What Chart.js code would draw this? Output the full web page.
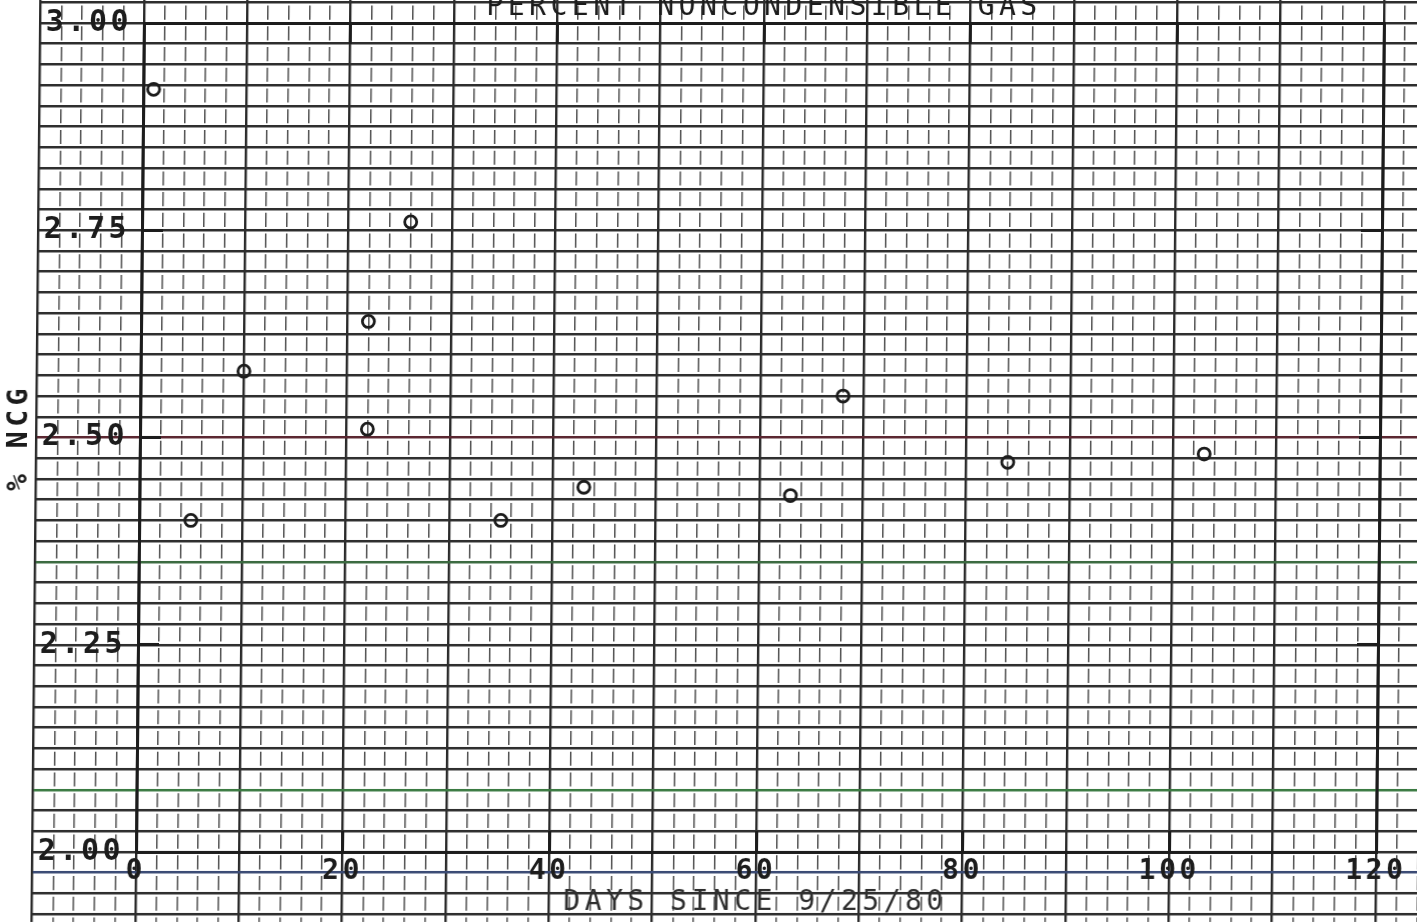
<!DOCTYPE html>
<html>
<head>
<meta charset="utf-8">
<title>Percent Noncondensible Gas</title>
<script src="https://cdn.jsdelivr.net/npm/chart.js@4.4.1/dist/chart.umd.min.js"></script>
<style>
  html, body { margin: 0; padding: 0; background: #fff; overflow: hidden; width: 1417px; height: 922px; }
  /* the plotter sheet leans slightly, so the whole sheet is sheared a touch */
  #sheet { position: absolute; left: 0; top: 0; width: 1432px; height: 922px;
           transform: skewX(-0.55deg); transform-origin: 0 437px; }
  #sheet canvas { position: absolute; left: 0; top: 0; }
</style>
</head>
<body>
<div id="sheet">
  <canvas id="paper" width="1432" height="922"></canvas>
  <canvas id="plot" width="1432" height="922"></canvas>
</div>
<script>
// ---- data -------------------------------------------------------------
const days       = [1, 5, 10, 22, 22, 26, 35, 43, 63, 68, 84, 103];
const ncgPercent = [2.92, 2.40, 2.58, 2.64, 2.51, 2.76, 2.40, 2.44, 2.43, 2.55, 2.47, 2.48];

const xTickValues = [0, 20, 40, 60, 80, 100, 120];
const xTickLabels = ['0', '20', '40', '60', '80', '100', '120'];
const yTickValues = [2.00, 2.25, 2.50, 2.75, 3.00];
const yTickLabels = ['2.00', '2.25', '2.50', '2.75', '3.00'];

const chartTitle = 'PERCENT NONCONDENSIBLE GAS';
const xTitle = 'DAYS SINCE 9/25/80';
const yTitle = '% NCG';

// ---- geometry ---------------------------------------------------------
const W = 1432, H = 922;
const FRAME = { left: 140, right: 1380, top: 23, bottom: 852 };
const X_RANGE = [0, 120], Y_RANGE = [2, 3];
const pxPerDay  = (FRAME.right - FRAME.left) / (X_RANGE[1] - X_RANGE[0]);
const pxPerUnit = (FRAME.bottom - FRAME.top) / (Y_RANGE[1] - Y_RANGE[0]);

// graph paper: one major division to the left of the y axis, to the edges elsewhere
const PAPER_X_MIN = -10;
const paperLeft = FRAME.left + (PAPER_X_MIN - X_RANGE[0]) * pxPerDay;
const paperXMax = X_RANGE[0] + (W - FRAME.left) / pxPerDay;
const paperYMax = Y_RANGE[1] + FRAME.top / pxPerUnit;
const paperYMin = Y_RANGE[0] - (H - FRAME.bottom) / pxPerUnit;

const CELL_X = 2, MAJOR_X = 10, CELL_Y = 0.025;
const rowPx = CELL_Y * pxPerUnit;
const dashLen = rowPx * 0.68;
const firstRow = FRAME.top - rowPx * Math.floor(FRAME.top / rowPx);
const dashStart = firstRow + (rowPx - dashLen) / 2;
const dashOffset = ((rowPx - dashStart) % rowPx + rowPx) % rowPx;

const INK = '#1c1c1c';
const RULE = '#2e2e2e';
const FONT = "'DejaVu Sans Mono', 'Liberation Mono', monospace";

// colour fringes on a few printed rules
const rowTint = { 2500: '#5a2630', 2350: '#3b6a40', 2075: '#3b7a42', 1975: '#3a4a74' };

function gridTicks(scale, step) {
  const out = [];
  const k0 = Math.ceil(scale.min / step - 1e-9), k1 = Math.floor(scale.max / step + 1e-9);
  for (let k = k0; k <= k1; k++) out.push({ value: +(k * step).toFixed(4) });
  scale.ticks = out;
}
const isMajor = v => Math.abs(Math.round(v) % MAJOR_X) === 0 && Math.abs(v - Math.round(v)) < 1e-6;

// ---- graph paper ------------------------------------------------------
new Chart(document.getElementById('paper'), {
  type: 'scatter',
  data: { datasets: [] },
  options: {
    responsive: false, animation: false, devicePixelRatio: 1,
    layout: { padding: { left: paperLeft, right: 0, top: 0, bottom: 0 } },
    plugins: { legend: { display: false }, tooltip: { enabled: false }, title: { display: false } },
    scales: {
      x: {
        type: 'linear', position: 'bottom', min: PAPER_X_MIN, max: paperXMax,
        afterBuildTicks: s => gridTicks(s, CELL_X),
        afterFit: s => { s.height = 0; s.paddingLeft = s.paddingRight = 0; },
        ticks: { display: false },
        border: {
          display: false,
          dash: c => isMajor(c.tick.value) ? [] : [dashLen, rowPx - dashLen],
          dashOffset: c => isMajor(c.tick.value) ? 0 : dashOffset
        },
        grid: {
          drawTicks: false,
          color: c => isMajor(c.tick.value) ? '#2a2a2a' : '#505050',
          lineWidth: c => isMajor(c.tick.value) ? 2.4 : 1.5
        }
      },
      y: {
        type: 'linear', position: 'left', min: paperYMin, max: paperYMax,
        afterBuildTicks: s => gridTicks(s, CELL_Y),
        afterFit: s => { s.width = 0; s.paddingTop = s.paddingBottom = 0; },
        ticks: { display: false },
        border: { display: false },
        grid: {
          drawTicks: false,
          color: c => rowTint[Math.round(c.tick.value * 1000)] || RULE,
          lineWidth: 2.5
        }
      }
    }
  }
});

// ---- plotted chart ----------------------------------------------------
const frameBorder = { display: true, color: INK, width: 3 };
const inwardTicks = { display: true, drawOnChartArea: false, drawTicks: true,
                      tickLength: -21, tickWidth: 3, tickColor: INK };
const valueTicks = arr => s => { s.ticks = arr.map(v => ({ value: v })); };
const noOverflowX = h => s => { s.height = h; s.paddingLeft = s.paddingRight = 0; };
const noOverflowY = w => s => { s.width = w; s.paddingTop = s.paddingBottom = 0; };

// plotter lettering is widely spaced
const plotterLettering = {
  id: 'plotterLettering',
  beforeDraw(chart) { chart.ctx.letterSpacing = '4.5px'; },
  afterDatasetsDraw(chart) { chart.ctx.letterSpacing = '3.5px'; },
  afterDraw(chart) { chart.ctx.letterSpacing = '0px'; }
};

new Chart(document.getElementById('plot'), {
  type: 'scatter',
  data: {
    datasets: [{
      label: yTitle,
      data: days.map((d, i) => ({ x: d, y: ncgPercent[i] })),
      pointStyle: 'circle',
      pointRadius: 6,
      pointBorderWidth: 2.8,
      pointBorderColor: INK,
      pointBackgroundColor: 'rgba(255,255,255,0)',
      showLine: false
    }]
  },
  plugins: [plotterLettering],
  options: {
    responsive: false, animation: false, devicePixelRatio: 1,
    layout: { padding: { left: 0, right: W - FRAME.right, top: 0, bottom: 0 } },
    plugins: {
      legend: { display: false },
      tooltip: { enabled: false },
      title: {
        display: true, text: chartTitle, fullSize: false, color: INK,
        font: { family: FONT, size: 28, weight: 'normal', lineHeight: 1 },
        padding: { top: -6, bottom: FRAME.top - 28 + 6 }
      }
    },
    scales: {
      x: {
        type: 'linear', position: 'bottom', min: X_RANGE[0], max: X_RANGE[1],
        afterBuildTicks: valueTicks(xTickValues),
        afterFit: noOverflowX(H - FRAME.bottom),
        ticks: {
          autoSkip: false, maxRotation: 0, padding: 27, z: 1, color: INK,
          font: { family: FONT, size: 28, weight: 'bold', lineHeight: 1 },
          callback: v => xTickLabels[xTickValues.indexOf(v)]
        },
        grid: inwardTicks, border: frameBorder,
        title: {
          display: true, text: xTitle, color: '#2e2e2e',
          font: { family: FONT, size: 28, lineHeight: 1 },
          padding: { top: 0, bottom: 5 }
        }
      },
      x2: {
        type: 'linear', axis: 'x', position: 'top', min: X_RANGE[0], max: X_RANGE[1],
        afterBuildTicks: valueTicks(xTickValues),
        afterFit: noOverflowX(0),
        ticks: { display: false },
        grid: inwardTicks, border: frameBorder
      },
      y: {
        type: 'linear', position: 'left', min: Y_RANGE[0], max: Y_RANGE[1],
        afterBuildTicks: valueTicks(yTickValues),
        afterFit: noOverflowY(FRAME.left),
        ticks: {
          autoSkip: false, padding: 33, z: 1, color: INK,
          font: { family: FONT, size: 30, weight: 'bold', lineHeight: 1 },
          callback: v => yTickLabels[yTickValues.indexOf(v)]
        },
        grid: inwardTicks, border: frameBorder,
        title: {
          display: true, text: yTitle, color: INK,
          font: { family: FONT, size: 28, weight: 'bold', lineHeight: 1 },
          padding: { top: 6, bottom: 0 }
        }
      },
      y2: {
        type: 'linear', axis: 'y', position: 'right', min: Y_RANGE[0], max: Y_RANGE[1],
        afterBuildTicks: valueTicks(yTickValues),
        afterFit: noOverflowY(0),
        ticks: { display: false },
        grid: inwardTicks, border: frameBorder
      }
    }
  }
});
</script>
</body>
</html>
